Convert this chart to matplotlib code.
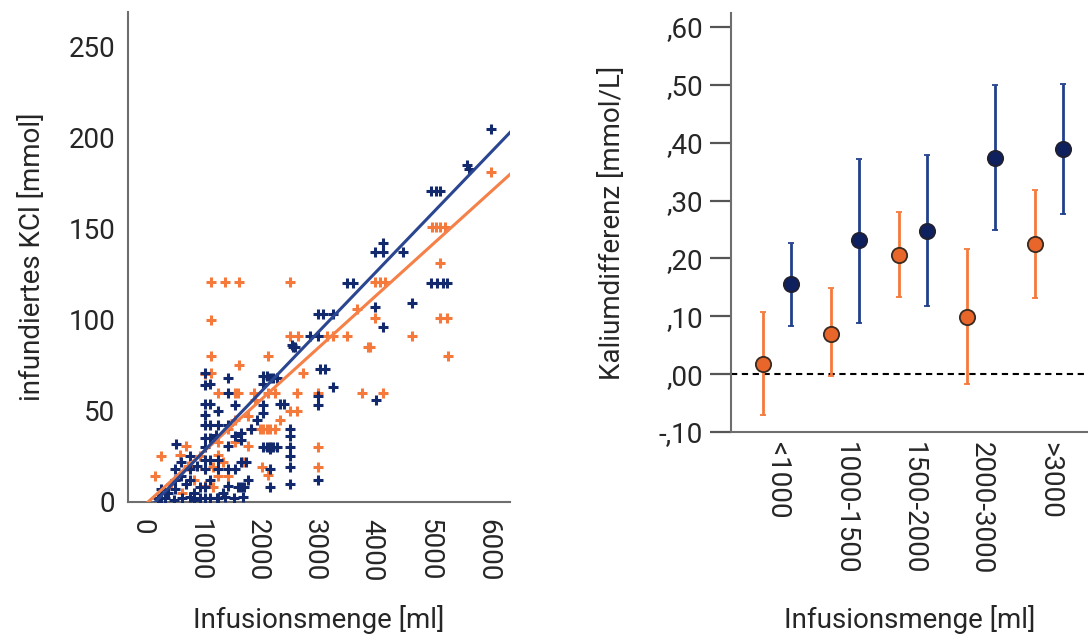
import matplotlib
matplotlib.use("Agg")
import matplotlib.pyplot as plt
import numpy as np

plt.rcParams['font.family'] = ['Roboto', 'DejaVu Sans']

# ---------------- data: left panel (scatter) ----------------
blue_x = [6064, 5682, 5640, 5030, 5100, 5180, 4049, 4193, 4193, 4541,
          5030, 5120, 5230, 5300, 4049, 4686, 4193, 4066, 3557, 3672,
          3063, 3150, 3314, 2919, 3063, 2601, 2658, 2630, 3093, 3180,
          3314, 3063, 3063, 2572, 2572, 2572, 2572, 2572, 2572, 2398,
          2460, 2108, 2167, 2224, 2280, 2340, 2108, 2108, 2108, 2108,
          2167, 2224, 2280, 2340, 2224, 2224, 2224, 3058,
          1089, 1089, 1089, 1089, 1089, 1089, 1089, 1089, 1089, 1089, 1089,
          1176, 1176, 1176, 1176, 1176, 1176, 1176,
          596, 335, 335, 568, 568, 568, 683, 683, 829, 829, 829, 829,
          1320, 1320, 1320, 1320, 1320, 1494, 1494, 1494, 1494, 1494, 1494,
          1611, 1611, 1611, 1726, 1726, 1726, 1726, 1286, 1668, 1780,
          278, 400, 550, 700, 900, 1000, 1300, 1450, 1600, 1750,
          450, 900, 1000, 1400, 760, 960, 1800, 1850, 1900, 2000]
blue_y = [205, 183, 185, 171, 171, 171, 137, 137, 142, 137,
          120, 120, 120, 120, 107, 109, 96, 56, 120, 120,
          103, 103, 103, 91, 91, 86, 85, 85, 73, 73,
          63, 58, 53, 40, 36, 30, 25, 19, 10, 54,
          54, 69, 69, 68, 68, 68, 65, 53, 49, 30,
          30, 30, 30, 30, 29, 18, 8, 12,
          71, 64, 54, 48, 42, 35, 30, 23, 18, 8, 2,
          65, 54, 42, 35, 23, 12, 2,
          32, 2, 7, 18, 12, 7, 22, 14, 25, 18, 12, 3,
          50, 42, 23, 18, 2, 68, 60, 42, 31, 18, 9,
          53, 36, 18, 38, 34, 22, 8, 37, 8, 8,
          2, 2, 1, 2, 1, 2, 2, 3, 2, 3,
          5, 5, 8, 5, 10, 20, 22, 12, 40, 45]

orange_x = [6064, 5033, 5100, 5180, 5260, 4049, 4140, 4230, 5178, 4049,
            5178, 5300, 4686, 5311, 3962, 4193, 2572, 3730, 2572, 2716,
            3209, 3325, 3557, 2184, 3933, 2803, 2688, 3063, 3817, 2195,
            2311, 2572, 2688, 2398, 2050, 2108, 2167, 2224, 2311, 2224,
            3063, 3063, 2080, 2195,
            1194, 1447, 1690, 1194, 1194, 1690,
            335, 220, 655, 770, 1089, 1089, 1089, 1205, 1320, 1320,
            1320, 1320, 1611, 1611, 1611, 1668, 1494, 1494, 1842, 1842,
            1958, 1234, 1234, 500, 800, 900, 1000, 700, 1400, 1750,
            1900, 1950]
orange_y = [181, 151, 151, 151, 151, 121, 121, 121, 131, 101,
            101, 101, 91, 80, 85, 60, 121, 106, 91, 91,
            91, 91, 91, 80, 85, 71, 60, 60, 60, 60,
            60, 50, 50, 45, 40, 40, 40, 40, 40, 30,
            30, 19, 19, 15,
            121, 121, 121, 100, 80, 75,
            25, 14, 26, 31, 70, 18, 9, 71, 60, 33,
            26, 14, 60, 33, 45, 60, 40, 14, 47, 31,
            56, 19, 8, 10, 20, 12, 25, 5, 22, 22,
            40, 60]

# fit lines (slope, intercept)
blue_fit = (0.0329, -7.5)
orange_fit = (0.0286, -3.0)

# ---------------- data: right panel (means with error bars) ----------------
categories = ['<1000', '1000-1500', '1500-2000', '2000-3000', '>3000']
orange_mean = [0.018, 0.070, 0.206, 0.099, 0.224]
orange_low = [-0.071, -0.003, 0.133, -0.017, 0.132]
orange_high = [0.108, 0.148, 0.281, 0.216, 0.318]
blue_mean = [0.155, 0.231, 0.248, 0.374, 0.389]
blue_low = [0.083, 0.089, 0.118, 0.249, 0.277]
blue_high = [0.227, 0.372, 0.378, 0.499, 0.502]
right_yticks = [-0.10, 0.0, 0.10, 0.20, 0.30, 0.40, 0.50, 0.60]
right_yticklabels = ['-,10', ',00', ',10', ',20', ',30', ',40', ',50', ',60']

left_xticks = [0, 1000, 2000, 3000, 4000, 5000, 6000]
left_yticks = [0, 50, 100, 150, 200, 250]

# ---------------- styling ----------------
NAVY = '#13296e'
ORANGE = '#f5793b'
NAVY_LINE = '#2b4690'
ORANGE_LINE = '#f58048'
SPINE = '#6e6e6e'
TXT = '#262626'
FS = 20

fig = plt.figure(figsize=(10.88, 6.37), dpi=100)

# ---------------- left panel ----------------
ax1 = fig.add_axes([128 / 1088, (637 - 502) / 637, 382 / 1088, 490 / 637])
ax1.scatter(orange_x, orange_y, marker='+', s=50, linewidths=2.2, color=ORANGE, zorder=2)
ax1.scatter(blue_x, blue_y, marker='+', s=50, linewidths=2.2, color=NAVY, zorder=3)

xmin, xmax = -243, 6394
for (m, b), col in ((orange_fit, ORANGE_LINE), (blue_fit, NAVY_LINE)):
    x0 = -b / m
    xs = np.array([x0, xmax])
    ax1.plot(xs, m * xs + b, color=col, lw=2.2, zorder=4)

ax1.set_xlim(xmin, xmax)
ax1.set_ylim(0, 269)
ax1.set_xticks(left_xticks)
ax1.set_xticklabels([str(v) for v in left_xticks], rotation=-90, fontsize=FS, color=TXT)
ax1.set_yticks(left_yticks)
ax1.set_yticklabels([str(v) for v in left_yticks], fontsize=FS, color=TXT)
ax1.tick_params(axis='both', length=0)
ax1.tick_params(axis='x', pad=12)
ax1.tick_params(axis='y', pad=9)
for s in ['top', 'right']:
    ax1.spines[s].set_visible(False)
for s in ['left', 'bottom']:
    ax1.spines[s].set_color(SPINE)
    ax1.spines[s].set_linewidth(1.5)
ax1.set_xlabel('Infusionsmenge [ml]', fontsize=FS, color=TXT, labelpad=17)
ax1.set_ylabel('infundiertes KCl [mmol]', fontsize=FS, color=TXT, labelpad=16)

# ---------------- right panel ----------------
ax2 = fig.add_axes([731 / 1088, (637 - 432) / 637, 357 / 1088, 419 / 637])
pos = np.arange(len(categories))
off = 0.206
om = np.array(orange_mean)
bm = np.array(blue_mean)
ax2.errorbar(pos - off, om, yerr=[om - np.array(orange_low), np.array(orange_high) - om],
             fmt='o', color=ORANGE, ecolor=ORANGE, elinewidth=2, capsize=2.5, capthick=2,
             markersize=11, markerfacecolor='#e9662b', markeredgecolor='#3a2a20',
             markeredgewidth=1.3, zorder=3)
ax2.errorbar(pos + off, bm, yerr=[bm - np.array(blue_low), np.array(blue_high) - bm],
             fmt='o', color=NAVY_LINE, ecolor='#22408c', elinewidth=2, capsize=2.5, capthick=2,
             markersize=11, markerfacecolor='#0e205e', markeredgecolor='#202030',
             markeredgewidth=1.3, zorder=3)
ax2.axhline(0, color='black', lw=1.5, ls=(0, (3, 2.2)), zorder=2)

ax2.set_xlim(-0.676, 4.57)
ax2.set_ylim(-0.10, 0.624)
ax2.set_xticks(pos)
ax2.set_xticklabels(categories, rotation=-90, fontsize=FS, color=TXT)
ax2.set_yticks(right_yticks)
ax2.set_yticklabels(right_yticklabels, fontsize=FS, color=TXT)
ax2.tick_params(axis='x', length=0, pad=7)
ax2.tick_params(axis='y', length=15, width=1.6, color='#555555', pad=5)
for s in ['top', 'right']:
    ax2.spines[s].set_visible(False)
for s in ['left', 'bottom']:
    ax2.spines[s].set_color(SPINE)
    ax2.spines[s].set_linewidth(1.5)
ax2.set_xlabel('Infusionsmenge [ml]', fontsize=FS, color=TXT, labelpad=22)
ax2.set_ylabel('Kaliumdifferenz [mmol/L]', fontsize=FS, color=TXT, labelpad=24)

fig.savefig('out.png', dpi=100)
